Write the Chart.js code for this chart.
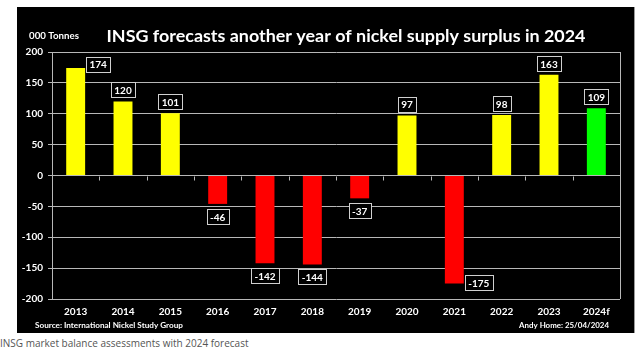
<!DOCTYPE html>
<html>
<head>
<meta charset="utf-8">
<script src="https://cdn.jsdelivr.net/npm/chart.js@4.4.1/dist/chart.umd.min.js"></script>
<style>
  html, body { margin: 0; padding: 0; background: #ffffff; }
  #wrap { position: relative; width: 640px; height: 351px; overflow: hidden; }
  #c { position: absolute; left: 0; top: 0; }
  #caption { position: absolute; left: 0; top: 336px; font-family: "Open Sans", sans-serif; font-size: 10px; color: #555555; white-space: nowrap; }
</style>
</head>
<body>
<div id="wrap">
  <canvas id="c" width="640" height="336"></canvas>
  <div id="caption">INSG market balance assessments with 2024 forecast</div>
</div>
<script>
const categories = ["2013","2014","2015","2016","2017","2018","2019","2020","2021","2022","2023","2024f"];
const balance = [174, 120, 101, -46, -142, -144, -37, 97, -175, 98, 163, 109];
const barColors = ["#ffff00","#ffff00","#ffff00","#ff0000","#ff0000","#ff0000","#ff0000","#ffff00","#ff0000","#ffff00","#ffff00","#00ff00"];
const yTicks = [-200, -150, -100, -50, 0, 50, 100, 150, 200];
const titleText = "INSG forecasts another year of nickel supply surplus in 2024";
const unitText = "000 Tonnes";
const sourceText = "Source: International Nickel Study Group";
const creditText = "Andy Home: 25/04/2024";

const FONT = "Lato, 'Open Sans', sans-serif";
const GRID = "#b8b8b8";

function fitFont(ctx, text, target, base) {
  ctx.font = "bold " + base + "px " + FONT;
  const w = ctx.measureText(text).width;
  return (base * target / w).toFixed(2);
}

const panelPlugin = {
  id: "panel",
  beforeDraw(chart) {
    const ctx = chart.ctx;
    ctx.save();
    ctx.fillStyle = "#000000";
    ctx.fillRect(17, 7, 617, 326);
    ctx.fillStyle = "#9a9a9a";
    ctx.fillRect(634, 7, 1, 326);
    ctx.restore();
  },
  afterDraw(chart) {
    const ctx = chart.ctx;
    const a = chart.chartArea;
    const xs = chart.scales.x, ys = chart.scales.y;
    ctx.save();
    ctx.strokeStyle = GRID; ctx.lineWidth = 1;
    ctx.beginPath(); ctx.moveTo(Math.round(a.right) + 0.5, a.top); ctx.lineTo(Math.round(a.right) + 0.5, a.bottom); ctx.stroke();
    const y0 = Math.round(ys.getPixelForValue(0)) + 0.5;
    const step = xs.getPixelForValue(1) - xs.getPixelForValue(0);
    for (let i = 0; i <= categories.length; i++) {
      const x = Math.round(xs.getPixelForValue(i) - step / 2) + 0.5;
      ctx.beginPath(); ctx.moveTo(x, y0); ctx.lineTo(x, y0 + 4); ctx.stroke();
    }
    ctx.fillStyle = "#ffffff";
    ctx.textBaseline = "middle";
    ctx.textAlign = "center";
    ctx.font = "bold " + fitFont(ctx, titleText, 479, 20) + "px " + FONT;
    ctx.fillText(titleText, 346, 36);
    ctx.textAlign = "left";
    ctx.font = "bold " + fitFont(ctx, unitText, 50, 10) + "px " + FONT;
    ctx.fillText(unitText, 29, 36);
    ctx.font = "bold " + fitFont(ctx, sourceText, 148, 9) + "px " + FONT;
    ctx.fillText(sourceText, 35, 325);
    ctx.textAlign = "right";
    ctx.font = "bold " + fitFont(ctx, creditText, 90, 9) + "px " + FONT;
    ctx.fillText(creditText, 609, 325);
    const meta = chart.getDatasetMeta(0);
    ctx.font = "bold 10px " + FONT;
    ctx.textAlign = "center";
    meta.data.forEach((bar, i) => {
      const v = balance[i];
      const txt = String(v);
      const w = Math.ceil(ctx.measureText(txt).width) + 6;
      const h = 15;
      let cx = bar.x, cy;
      if (v >= 0) {
        cy = bar.y - 4 - h / 2;
        if (cy - h / 2 < a.top) { cx = bar.x + bar.width / 2 + 1 + w / 2; cy = bar.y - 4; }
      } else {
        cy = bar.y + 5 + h / 2;
        if (cy + h / 2 > a.bottom) { cx = bar.x + bar.width / 2 + 1 + w / 2; cy = bar.y - 1; }
      }
      const bx = Math.round(cx - w / 2) + 0.5, by = Math.round(cy - h / 2) + 0.5;
      ctx.fillStyle = "#000000";
      ctx.fillRect(bx, by, w, h);
      ctx.strokeStyle = "#d0d0d0"; ctx.lineWidth = 1;
      ctx.strokeRect(bx, by, w, h);
      ctx.fillStyle = "#ffffff";
      ctx.fillText(txt, cx, cy + 1);
    });
    ctx.restore();
  }
};

new Chart(document.getElementById("c"), {
  type: "bar",
  data: {
    labels: categories,
    datasets: [{
      data: balance,
      backgroundColor: barColors,
      borderWidth: 0,
      barPercentage: 0.4,
      categoryPercentage: 1.0
    }]
  },
  options: {
    responsive: false,
    animation: false,
    devicePixelRatio: 1,
    layout: { padding: { left: 17, right: 20, top: 52, bottom: 0 } },
    plugins: { legend: { display: false }, tooltip: { enabled: false }, title: { display: false } },
    scales: {
      x: {
        grid: { display: false, drawTicks: false, tickLength: 0 },
        border: { display: false },
        ticks: { color: "#ffffff", font: { family: FONT, size: 10, weight: "bold" }, padding: 7, maxRotation: 0, autoSkip: false },
        afterFit(s) { s.height = 37; }
      },
      y: {
        min: -200, max: 200,
        afterBuildTicks(s) { s.ticks = yTicks.map(v => ({ value: v })); },
        grid: { color: GRID, lineWidth: 1, tickLength: 4, drawTicks: true, tickColor: GRID },
        border: { display: true, color: GRID, width: 1 },
        ticks: { color: "#ffffff", font: { family: FONT, size: 10, weight: "bold" }, padding: 5 },
        afterFit(s) { s.width = 35; }
      }
    }
  },
  plugins: [panelPlugin]
});
</script>
</body>
</html>
